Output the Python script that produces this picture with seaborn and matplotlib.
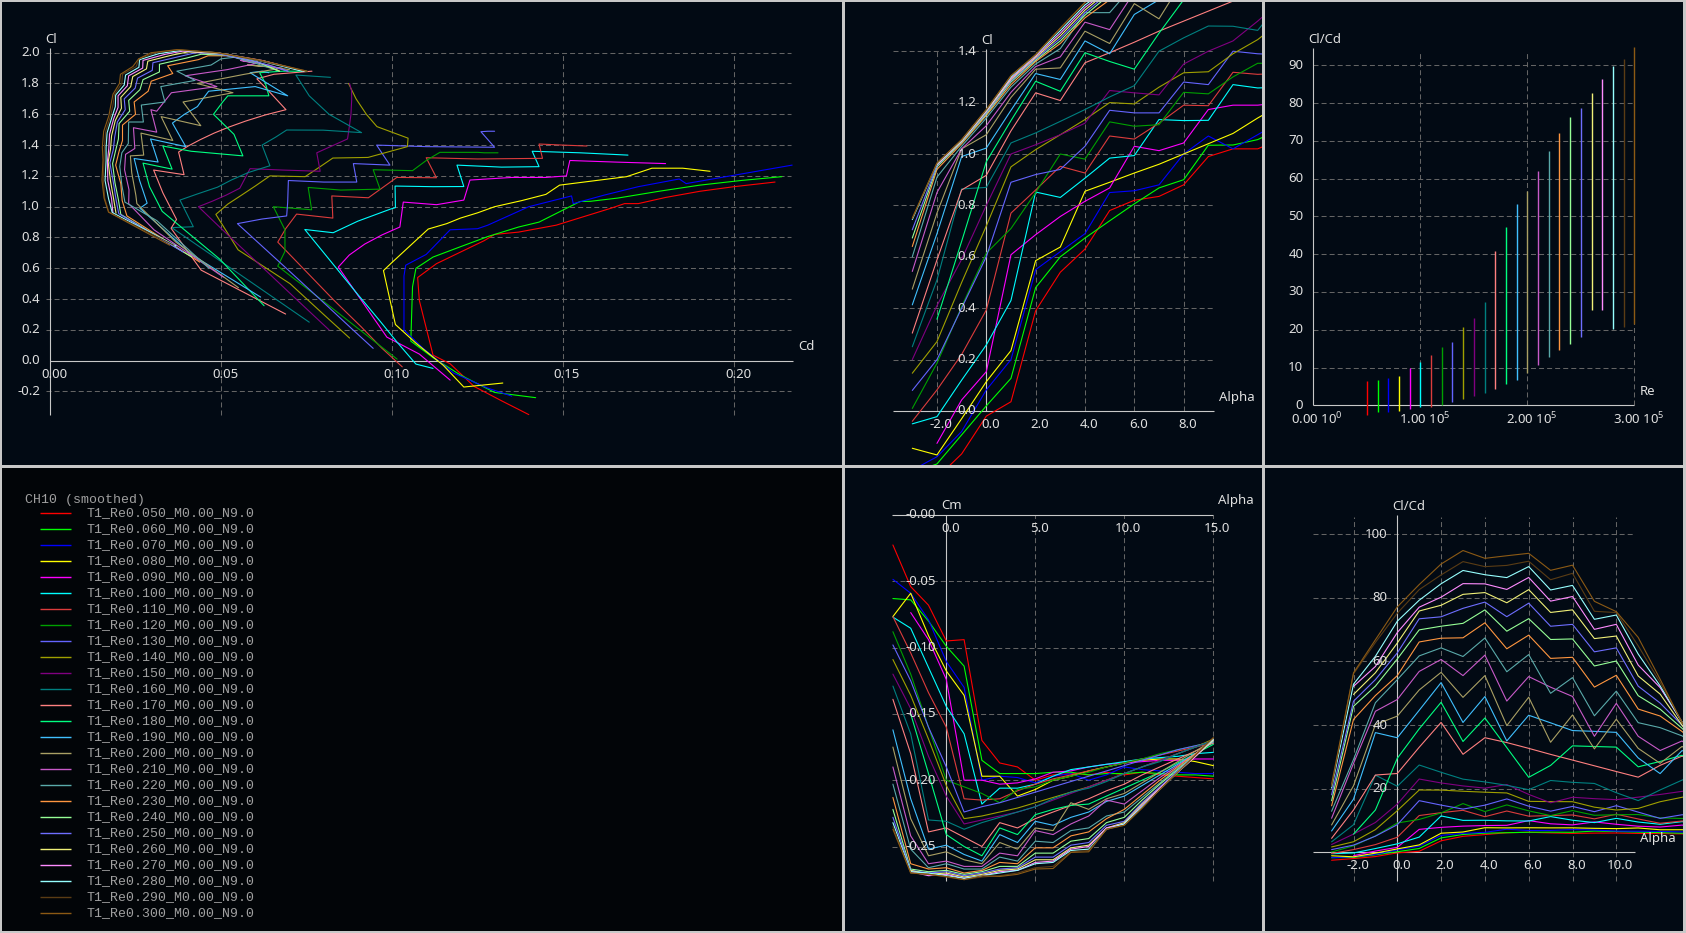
import numpy as np
import pandas as pd
import matplotlib
matplotlib.use("Agg")
import matplotlib.pyplot as plt
import seaborn as sns
from matplotlib.transforms import offset_copy

# ---------------------------------------------------------------- data
RE = [0.05, 0.06, 0.07, 0.08, 0.09, 0.10, 0.11, 0.12, 0.13, 0.14, 0.15, 0.16, 0.17,
      0.18, 0.19, 0.20, 0.21, 0.22, 0.23, 0.24, 0.25, 0.26, 0.27, 0.28, 0.29, 0.30]
LABELS = ["T1_Re%.3f_M0.00_N9.0" % r for r in RE]
COLORS = ['#ff0000', '#00ff00', '#0000ff', '#ffff00', '#ff00ff', '#00ffff',
          '#dc3c3c', '#00a000', '#6464ff', '#a0a000', '#800080', '#008080',
          '#ff8080', '#00ff80', '#40c0ff', '#aaa064', '#c85ac8', '#5aaaaa',
          '#ff9640', '#96ff96', '#6e6eff', '#f0f078', '#ff8cff', '#96ffff',
          '#5a3c14', '#8c5a14']
LEGEND_TITLE = "CH10 (smoothed)"

# first alpha of each polar (1 deg steps up to 15 deg)
ALPHA_START = [-3, -3, -3, -3, -2, -3, -3, -3, -3, -3, -3, -3, -3,
               -2, -3, -3, -3, -3, -3, -3, -3, -2, -2, -3, -3, -3]

CL = [
 [-0.35, -0.26, -0.167, -0.02, 0.036, 0.39, 0.54, 0.63, 0.78, 0.82, 0.835, 0.88, 0.99, 1.02, 1.02, 1.06, 1.10, 1.13, 1.16],
 [-0.24, -0.206, -0.093, 0.02, 0.127, 0.48, 0.60, 0.673, 0.74, 0.806, 0.868, 0.90, 1.034, 1.035, 1.056, 1.10, 1.14, 1.17, 1.195],
 [-0.23, -0.178, -0.08, 0.082, 0.20, 0.55, 0.62, 0.69, 0.85, 0.857, 0.88, 1.0, 1.07, 1.02, 1.075, 1.13, 1.18, 1.15, 1.27],
 [-0.145, -0.171, -0.03, 0.114, 0.235, 0.585, 0.638, 0.855, 0.89, 0.926, 0.96, 1.0, 1.04, 1.08, 1.14, 1.195, 1.25, 1.25, 1.23],
 [-0.126, 0.043, 0.153, 0.608, 0.686, 0.757, 0.816, 0.868, 1.03, 1.013, 1.043, 1.173, 1.19, 1.19, 1.20, 1.30, 1.29, 1.28],
 [-0.05, -0.022, 0.12, 0.257, 0.43, 0.852, 0.831, 0.906, 0.984, 0.994, 1.134, 1.13, 1.131, 1.27, 1.257, 1.26, 1.36, 1.35, 1.335],
 [-0.04, 0.082, 0.22, 0.393, 0.77, 0.86, 0.952, 0.926, 1.07, 1.058, 1.12, 1.19, 1.188, 1.318, 1.31, 1.314, 1.407, 1.40, 1.394],
 [0.01, 0.186, 0.406, 0.614, 0.71, 0.85, 1.0, 0.98, 1.125, 1.108, 1.114, 1.24, 1.234, 1.30, 1.353, 1.353, 1.35, 1.35, 1.35],
 [0.08, 0.2, 0.4, 0.6, 0.89, 0.92, 0.94, 1.03, 1.17, 1.16, 1.16, 1.28, 1.27, 1.40, 1.39, 1.386, 1.487, 1.49, 1.49],
 [0.147, 0.27, 0.5, 0.72, 0.95, 1.017, 1.075, 1.134, 1.2, 1.195, 1.26, 1.316, 1.32, 1.39, 1.445, 1.52, 1.6, 1.7, 1.8],
 [0.2, 0.41, 0.59, 0.8, 1.0, 1.036, 1.075, 1.12, 1.247, 1.238, 1.23, 1.35, 1.40, 1.44, 1.517, 1.60, 1.69, 1.75, 1.80],
 [0.25, 0.51, 0.864, 0.87, 1.043, 1.082, 1.127, 1.173, 1.222, 1.266, 1.40, 1.452, 1.498, 1.497, 1.481, 1.60, 1.72, 1.855, 1.84],
 [0.303, 0.588, 0.86, 0.917, 1.09, 1.238, 1.208, 1.355, 1.394, 1.435, 1.478, 1.517, 1.556, 1.595, 1.63, 1.75, 1.83, 1.86, 1.88],
 [0.357, 0.66, 0.97, 1.13, 1.283, 1.244, 1.394, 1.36, 1.33, 1.47, 1.60, 1.68, 1.72, 1.72, 1.80, 1.87, 1.88, 1.88],
 [0.413, 0.69, 0.99, 1.023, 1.17, 1.313, 1.29, 1.44, 1.39, 1.543, 1.60, 1.65, 1.70, 1.75, 1.78, 1.72, 1.87, 1.88, 1.87],
 [0.474, 0.77, 1.02, 1.075, 1.22, 1.33, 1.335, 1.478, 1.43, 1.585, 1.526, 1.68, 1.74, 1.80, 1.86, 1.90, 1.92, 1.91, 1.89],
 [0.543, 0.85, 1.02, 1.11, 1.24, 1.34, 1.378, 1.513, 1.484, 1.63, 1.62, 1.74, 1.78, 1.85, 1.89, 1.93, 1.95, 1.92, 1.88],
 [0.60, 0.91, 1.03, 1.14, 1.26, 1.35, 1.41, 1.55, 1.55, 1.66, 1.68, 1.78, 1.82, 1.88, 1.92, 1.96, 1.97, 1.93, 1.88],
 [0.64, 0.94, 1.04, 1.15, 1.27, 1.36, 1.43, 1.53, 1.60, 1.68, 1.75, 1.815, 1.865, 1.915, 1.955, 1.98, 1.98, 1.94, 1.88],
 [0.673, 0.95, 1.045, 1.155, 1.28, 1.365, 1.44, 1.54, 1.62, 1.69, 1.76, 1.825, 1.875, 1.925, 1.965, 1.99, 1.985, 1.94, 1.88],
 [0.705, 0.955, 1.048, 1.16, 1.285, 1.37, 1.45, 1.55, 1.63, 1.70, 1.77, 1.835, 1.885, 1.935, 1.975, 2.0, 1.99, 1.94, 1.88],
 [0.958, 1.05, 1.165, 1.29, 1.375, 1.46, 1.56, 1.64, 1.71, 1.78, 1.845, 1.895, 1.945, 1.985, 2.005, 1.995, 1.945, 1.88],
 [0.96, 1.052, 1.168, 1.295, 1.38, 1.47, 1.57, 1.645, 1.72, 1.785, 1.85, 1.90, 1.95, 1.99, 2.01, 2.0, 1.95, 1.88],
 [0.745, 0.962, 1.054, 1.17, 1.30, 1.385, 1.48, 1.58, 1.65, 1.725, 1.79, 1.855, 1.905, 1.955, 1.995, 2.015, 2.0, 1.95, 1.88],
 [0.75, 0.965, 1.056, 1.173, 1.305, 1.387, 1.49, 1.59, 1.66, 1.73, 1.80, 1.86, 1.91, 1.96, 2.0, 2.02, 2.0, 1.95, 1.88],
 [0.75, 0.965, 1.056, 1.173, 1.305, 1.387, 1.49, 1.59, 1.66, 1.73, 1.80, 1.86, 1.91, 1.96, 2.0, 2.02, 2.0, 1.95, 1.88],
]

CD = [
 [0.140, 0.132, 0.124, 0.117, 0.112, 0.108, 0.1075, 0.113, 0.127, 0.130, 0.137, 0.148, 0.164, 0.168, 0.172, 0.180, 0.190, 0.200, 0.212],
 [0.142, 0.130, 0.120, 0.112, 0.1055, 0.106, 0.107, 0.112, 0.120, 0.128, 0.137, 0.143, 0.155, 0.158, 0.166, 0.178, 0.190, 0.202, 0.214],
 [0.135, 0.128, 0.118, 0.109, 0.1035, 0.1035, 0.104, 0.110, 0.117, 0.125, 0.128, 0.140, 0.1525, 0.153, 0.162, 0.172, 0.184, 0.186, 0.217],
 [0.1324, 0.121, 0.115, 0.107, 0.101, 0.0975, 0.100, 0.1106, 0.116, 0.120, 0.125, 0.130, 0.138, 0.145, 0.149, 0.1686, 0.176, 0.185, 0.193],
 [0.117, 0.108, 0.0985, 0.0843, 0.0875, 0.092, 0.097, 0.1023, 0.1033, 0.113, 0.121, 0.1228, 0.135, 0.145, 0.151, 0.152, 0.165, 0.180],
 [0.112, 0.107, 0.1015, 0.0965, 0.090, 0.0745, 0.0828, 0.090, 0.0995, 0.101, 0.1009, 0.112, 0.121, 0.119, 0.132, 0.143, 0.141, 0.155, 0.169],
 [0.103, 0.097, 0.091, 0.083, 0.0666, 0.069, 0.0721, 0.0827, 0.0824, 0.0931, 0.097, 0.1014, 0.113, 0.110, 0.125, 0.144, 0.143, 0.150, 0.157],
 [0.1015, 0.0914, 0.0788, 0.0666, 0.0687, 0.0687, 0.0653, 0.0765, 0.0755, 0.085, 0.0965, 0.0945, 0.106, 0.110, 0.114, 0.125, 0.127, 0.129, 0.131],
 [0.0945, 0.0886, 0.0789, 0.0691, 0.0548, 0.062, 0.0692, 0.0695, 0.0697, 0.080, 0.0897, 0.0887, 0.0994, 0.0955, 0.110, 0.130, 0.126, 0.128, 0.130],
 [0.0876, 0.0815, 0.0702, 0.055, 0.0485, 0.052, 0.056, 0.060, 0.0643, 0.0746, 0.079, 0.0827, 0.093, 0.1045, 0.1047, 0.0956, 0.0925, 0.0895, 0.0873],
 [0.0816, 0.0715, 0.0629, 0.0528, 0.0434, 0.0475, 0.0515, 0.0555, 0.0585, 0.068, 0.079, 0.078, 0.083, 0.087, 0.0875, 0.088, 0.0882, 0.0882, 0.0876],
 [0.0758, 0.0588, 0.0356, 0.0419, 0.038, 0.043, 0.049, 0.053, 0.058, 0.0643, 0.062, 0.066, 0.0692, 0.0799, 0.0911, 0.0816, 0.0758, 0.0719, 0.082],
 [0.0689, 0.0442, 0.0354, 0.037, 0.033, 0.0303, 0.0392, 0.0376, 0.0404, 0.0439, 0.048, 0.0523, 0.0572, 0.0628, 0.069, 0.064, 0.0605, 0.0655, 0.0766],
 [0.0626, 0.0496, 0.0328, 0.0291, 0.0272, 0.0357, 0.033, 0.0413, 0.0564, 0.0538, 0.0478, 0.0505, 0.052, 0.064, 0.063, 0.0613, 0.068, 0.075],
 [0.0616, 0.0413, 0.0263, 0.0284, 0.0262, 0.0246, 0.0316, 0.0294, 0.0397, 0.0358, 0.0393, 0.0431, 0.0447, 0.0464, 0.060, 0.0695, 0.0585, 0.062, 0.064],
 [0.0551, 0.0368, 0.0254, 0.0251, 0.0239, 0.0235, 0.0274, 0.0266, 0.0359, 0.0325, 0.0441, 0.0389, 0.0535, 0.043, 0.0569, 0.0679, 0.0577, 0.0637, 0.070],
 [0.0507, 0.0304, 0.023, 0.0231, 0.0218, 0.0221, 0.0248, 0.0244, 0.0312, 0.0295, 0.0312, 0.0355, 0.0488, 0.0395, 0.0518, 0.0603, 0.0557, 0.064, 0.0696],
 [0.0465, 0.0312, 0.0219, 0.021, 0.0204, 0.021, 0.0229, 0.023, 0.0273, 0.0267, 0.0336, 0.0324, 0.0424, 0.0371, 0.0471, 0.050, 0.0538, 0.0603, 0.0671],
 [0.0438, 0.0225, 0.0211, 0.0207, 0.0192, 0.0202, 0.0212, 0.0212, 0.025, 0.0246, 0.0287, 0.0296, 0.0359, 0.0344, 0.0434, 0.0462, 0.0521, 0.0606, 0.0671],
 [0.0415, 0.0207, 0.020, 0.019, 0.0183, 0.0192, 0.020, 0.0202, 0.0233, 0.023, 0.0263, 0.0272, 0.032, 0.032, 0.0399, 0.0442, 0.0509, 0.0606, 0.0671],
 [0.039, 0.0201, 0.0193, 0.0185, 0.0175, 0.0185, 0.0189, 0.0197, 0.022, 0.0217, 0.0249, 0.0256, 0.0299, 0.0301, 0.0378, 0.0426, 0.0498, 0.0606, 0.0696],
 [0.0193, 0.0186, 0.0177, 0.017, 0.0177, 0.018, 0.0191, 0.0209, 0.0207, 0.0236, 0.0242, 0.0282, 0.0286, 0.0358, 0.0403, 0.0499, 0.0627, 0.0743],
 [0.0184, 0.018, 0.0169, 0.0168, 0.0172, 0.0174, 0.0186, 0.0199, 0.0199, 0.0226, 0.023, 0.0271, 0.0272, 0.0338, 0.0388, 0.0488, 0.0619, 0.0743],
 [0.0369, 0.0182, 0.0171, 0.0161, 0.0164, 0.0164, 0.0167, 0.0181, 0.0191, 0.0192, 0.0217, 0.0221, 0.026, 0.0262, 0.032, 0.0385, 0.0488, 0.0609, 0.0737],
 [0.0362, 0.0172, 0.016, 0.0156, 0.0158, 0.0159, 0.0163, 0.0177, 0.0184, 0.0189, 0.021, 0.0212, 0.0252, 0.026, 0.0308, 0.0378, 0.0488, 0.0609, 0.0752],
 [0.035, 0.0171, 0.0158, 0.0152, 0.0155, 0.0153, 0.0157, 0.0172, 0.0178, 0.0184, 0.0203, 0.0206, 0.0242, 0.0259, 0.0296, 0.0371, 0.049, 0.0619, 0.0752],
]

CM = [
 [-0.0226, -0.054, -0.068, -0.095, -0.094, -0.170, -0.187, -0.190, -0.200, -0.196, -0.195, -0.196, -0.194, -0.196, -0.194, -0.196, -0.197, -0.198, -0.199],
 [-0.063, -0.064, -0.080, -0.099, -0.114, -0.185, -0.195, -0.195, -0.195, -0.194, -0.194, -0.196, -0.195, -0.195, -0.194, -0.195, -0.196, -0.196, -0.197],
 [-0.0485, -0.059, -0.079, -0.1105, -0.130, -0.200, -0.197, -0.198, -0.202, -0.197, -0.195, -0.200, -0.196, -0.190, -0.192, -0.193, -0.194, -0.195, -0.195],
 [-0.0766, -0.059, -0.091, -0.1176, -0.136, -0.197, -0.197, -0.212, -0.207, -0.200, -0.197, -0.193, -0.190, -0.187, -0.185, -0.184, -0.184, -0.186, -0.189],
 [-0.0736, -0.094, -0.124, -0.200, -0.200, -0.203, -0.202, -0.199, -0.194, -0.193, -0.190, -0.188, -0.187, -0.186, -0.185, -0.185, -0.184, -0.184],
 [-0.077, -0.0854, -0.115, -0.1444, -0.165, -0.218, -0.206, -0.206, -0.203, -0.197, -0.192, -0.190, -0.188, -0.186, -0.184, -0.183, -0.182, -0.180, -0.179],
 [-0.0766, -0.104, -0.134, -0.160, -0.214, -0.215, -0.214, -0.208, -0.203, -0.199, -0.196, -0.193, -0.190, -0.187, -0.184, -0.181, -0.178, -0.175, -0.172],
 [-0.088, -0.120, -0.160, -0.200, -0.205, -0.210, -0.217, -0.207, -0.205, -0.200, -0.197, -0.194, -0.190, -0.187, -0.184, -0.180, -0.177, -0.174, -0.171],
 [-0.098, -0.125, -0.160, -0.190, -0.224, -0.220, -0.217, -0.213, -0.209, -0.205, -0.201, -0.197, -0.193, -0.189, -0.185, -0.181, -0.177, -0.174, -0.171],
 [-0.109, -0.136, -0.169, -0.204, -0.229, -0.227, -0.224, -0.221, -0.217, -0.213, -0.209, -0.205, -0.200, -0.195, -0.190, -0.185, -0.180, -0.175, -0.169],
 [-0.120, -0.146, -0.182, -0.212, -0.233, -0.230, -0.227, -0.224, -0.220, -0.215, -0.210, -0.205, -0.200, -0.195, -0.190, -0.185, -0.180, -0.175, -0.170],
 [-0.129, -0.165, -0.230, -0.231, -0.237, -0.232, -0.228, -0.224, -0.220, -0.214, -0.209, -0.206, -0.201, -0.195, -0.190, -0.186, -0.180, -0.175, -0.170],
 [-0.139, -0.180, -0.239, -0.236, -0.243, -0.250, -0.232, -0.236, -0.229, -0.224, -0.219, -0.214, -0.208, -0.203, -0.196, -0.190, -0.184, -0.178, -0.172],
 [-0.150, -0.195, -0.241, -0.250, -0.257, -0.236, -0.241, -0.226, -0.222, -0.219, -0.218, -0.212, -0.206, -0.200, -0.194, -0.187, -0.180, -0.173],
 [-0.162, -0.214, -0.252, -0.249, -0.256, -0.261, -0.241, -0.247, -0.231, -0.234, -0.228, -0.224, -0.216, -0.212, -0.204, -0.196, -0.188, -0.180, -0.171],
 [-0.175, -0.229, -0.257, -0.254, -0.260, -0.263, -0.247, -0.252, -0.236, -0.238, -0.217, -0.222, -0.214, -0.210, -0.202, -0.194, -0.186, -0.178, -0.170],
 [-0.190, -0.242, -0.263, -0.261, -0.265, -0.265, -0.255, -0.257, -0.238, -0.241, -0.233, -0.227, -0.215, -0.218, -0.208, -0.198, -0.189, -0.180, -0.170],
 [-0.203, -0.252, -0.266, -0.263, -0.267, -0.267, -0.258, -0.261, -0.246, -0.247, -0.238, -0.236, -0.227, -0.224, -0.213, -0.202, -0.191, -0.181, -0.170],
 [-0.213, -0.263, -0.267, -0.266, -0.270, -0.268, -0.262, -0.263, -0.251, -0.251, -0.242, -0.239, -0.229, -0.222, -0.211, -0.200, -0.190, -0.180, -0.170],
 [-0.222, -0.267, -0.269, -0.268, -0.271, -0.269, -0.265, -0.265, -0.255, -0.255, -0.246, -0.244, -0.232, -0.228, -0.215, -0.203, -0.192, -0.181, -0.170],
 [-0.228, -0.268, -0.270, -0.269, -0.272, -0.270, -0.267, -0.266, -0.258, -0.258, -0.249, -0.247, -0.234, -0.231, -0.217, -0.205, -0.193, -0.181, -0.170],
 [-0.268, -0.271, -0.270, -0.273, -0.271, -0.268, -0.267, -0.260, -0.260, -0.251, -0.249, -0.236, -0.232, -0.218, -0.206, -0.194, -0.182, -0.170],
 [-0.269, -0.272, -0.271, -0.274, -0.272, -0.269, -0.268, -0.262, -0.261, -0.252, -0.250, -0.236, -0.233, -0.219, -0.206, -0.194, -0.182, -0.169],
 [-0.232, -0.269, -0.270, -0.272, -0.274, -0.272, -0.270, -0.268, -0.263, -0.262, -0.253, -0.252, -0.237, -0.233, -0.220, -0.207, -0.194, -0.181, -0.169],
 [-0.235, -0.270, -0.271, -0.273, -0.275, -0.273, -0.272, -0.270, -0.266, -0.265, -0.254, -0.253, -0.237, -0.234, -0.221, -0.207, -0.194, -0.181, -0.168],
 [-0.237, -0.270, -0.271, -0.2726, -0.275, -0.272, -0.2726, -0.271, -0.267, -0.2666, -0.2545, -0.254, -0.237, -0.234, -0.221, -0.207, -0.194, -0.181, -0.168],
]

# tick values / labels
P1_XT = [0.00, 0.05, 0.10, 0.15, 0.20]
P1_YT = [-0.2, 0.0, 0.2, 0.4, 0.6, 0.8, 1.0, 1.2, 1.4, 1.6, 1.8, 2.0]
P2_XT = [-2, 0, 2, 4, 6, 8]
P2_YT = [0.0, 0.2, 0.4, 0.6, 0.8, 1.0, 1.2, 1.4]
P3_XT = [0, 100000, 200000, 300000]
P3_XTL = ["0.00 10$^{0}$", "1.00 10$^{5}$", "2.00 10$^{5}$", "3.00 10$^{5}$"]
P3_YT = [0, 10, 20, 30, 40, 50, 60, 70, 80, 90]
P4_XT = [0, 5, 10, 15]
P4_YT = [0.0, -0.05, -0.10, -0.15, -0.20, -0.25]
P4_YTL = ["-0.00", "-0.05", "-0.10", "-0.15", "-0.20", "-0.25"]
P5_XT = [-2, 0, 2, 4, 6, 8, 10]
P5_YT = [20, 40, 60, 80, 100]

# ---------------------------------------------------------------- table
rows = []
for i, lab in enumerate(LABELS):
    n = len(CL[i])
    assert n == len(CD[i]) == len(CM[i]) == 16 - ALPHA_START[i], (lab, n, len(CD[i]), len(CM[i]))
    for j in range(n):
        rows.append(dict(series=lab, Re=RE[i] * 1e6, alpha=ALPHA_START[i] + j,
                         Cl=CL[i][j], Cd=CD[i][j], Cm=CM[i][j]))
df = pd.DataFrame(rows)
df["ClCd"] = df["Cl"] / df["Cd"]
PAL = dict(zip(LABELS, COLORS))
rng = df.groupby("series")["ClCd"].agg(["min", "max"]).reindex(LABELS)
re_vals = df.groupby("series")["Re"].first().reindex(LABELS)

# ---------------------------------------------------------------- style
sns.set_theme(style="white")
plt.rcParams["font.family"] = ["Noto Sans", "DejaVu Sans"]
plt.rcParams["mathtext.default"] = "regular"
plt.rcParams["lines.scale_dashes"] = False

W, H = 1686, 933
BG = "#020a14"
BG_LEG = "#020508"
SEP = "#c8c8c8"
AXC = "#c8c8c8"
GRIDC = "#646464"
TXT = "#e0e0e0"
FS = 9.5
LW = 0.8
DASH = (0, (3.6, 2.2))

fig = plt.figure(figsize=(W / 100, H / 100), dpi=100, facecolor=SEP)

PANELS = {"p1": (2, 2, 842, 465), "p2": (845, 2, 1262, 465), "p3": (1265, 2, 1683, 465),
          "leg": (2, 468, 842, 931), "p4": (845, 468, 1262, 931), "p5": (1265, 468, 1683, 931)}
# pixel position of value 0 and pixels per unit, for x and y
MAPS = {"p1": (50, 3420, 360.7, 154), "p2": (986.3, 24.67, 411, 257),
        "p3": (1313.3, 107e-5, 405.3, 3.778), "p4": (946.3, 17.8, 515, 1326),
        "p5": (1397.3, 21.9, 852.3, 3.18)}


def make_ax(key, bg=BG):
    x0, y0, x1, y1 = PANELS[key]
    ax = fig.add_axes([x0 / W, 1 - y1 / H, (x1 - x0) / W, (y1 - y0) / H])
    ax.set_facecolor(bg)
    for s in ax.spines.values():
        s.set_visible(False)
    return ax


def finish(ax, key):
    x0, y0, x1, y1 = PANELS[key]
    X0, SX, Y0, SY = MAPS[key]
    ax.set_xlim((x0 - X0) / SX, (x1 - X0) / SX)
    ax.set_ylim((Y0 - y1) / SY, (Y0 - y0) / SY)
    ax.set_xticks([])
    ax.set_yticks([])
    ax.set_xlabel("")
    ax.set_ylabel("")
    ax.grid(False)


def frame(ax, xaxis_y, xspan, yaxis_x, yspan, vgrid, vspan, hgrid, hspan,
          xt, xtl, yt, ytl, xtitle, ytitle):
    ax.vlines(vgrid, vspan[0], vspan[1], colors=GRIDC, linestyles=DASH, lw=0.75, zorder=1)
    ax.hlines(hgrid, hspan[0], hspan[1], colors=GRIDC, linestyles=DASH, lw=0.75, zorder=1)
    ax.plot(xspan, [xaxis_y, xaxis_y], color=AXC, lw=0.8, zorder=1.5, solid_capstyle="butt")
    ax.plot([yaxis_x, yaxis_x], yspan, color=AXC, lw=0.8, zorder=1.5, solid_capstyle="butt")
    tx = offset_copy(ax.transData, fig=fig, x=4, y=-13.5, units="dots")
    for v, s in zip(xt, xtl):
        ax.text(v, xaxis_y, s, transform=tx, ha="center", va="center", color=TXT, fontsize=FS, zorder=3)
    ty = offset_copy(ax.transData, fig=fig, x=-10, y=0, units="dots")
    for v, s in zip(yt, ytl):
        ax.text(yaxis_x, v, s, transform=ty, ha="right", va="center", color=TXT, fontsize=FS, zorder=3)
    txt = offset_copy(ax.transData, fig=fig, x=5, y=14, units="dots")
    ax.text(xspan[1], xaxis_y, xtitle, transform=txt, ha="left", va="center", color=TXT, fontsize=FS, zorder=3)
    tyt = offset_copy(ax.transData, fig=fig, x=-5, y=9, units="dots")
    ax.text(yaxis_x, max(yspan), ytitle, transform=tyt, ha="left", va="center", color=TXT, fontsize=FS, zorder=3)


def curves(ax, x, y):
    sns.lineplot(data=df, x=x, y=y, hue="series", hue_order=LABELS, palette=PAL,
                 sort=False, estimator=None, legend=False, lw=LW, ax=ax, zorder=2)


# ---- P1 : Cl vs Cd
ax1 = make_ax("p1")
curves(ax1, "Cd", "Cl")
finish(ax1, "p1")
frame(ax1, 0, (0, 0.2172), 0, (-0.35, 2.03), P1_XT[1:], (-0.35, 2.0), [v for v in P1_YT if v != 0], (-0.0012, 0.2167),
      P1_XT, ["%.2f" % v for v in P1_XT], P1_YT, ["%.1f" % v for v in P1_YT], "Cd", "Cl")

# ---- P2 : Cl vs alpha
ax2 = make_ax("p2")
curves(ax2, "alpha", "Cl")
finish(ax2, "p2")
frame(ax2, 0, (-3.8, 9.22), 0, (0, 1.407), [v for v in P2_XT if v != 0], (0, 1.4), P2_YT[1:], (-3.8, 9.22),
      P2_XT, ["%.1f" % v for v in P2_XT], P2_YT, ["%.1f" % v for v in P2_YT], "Alpha", "Cl")

# ---- P3 : Cl/Cd range vs Re
ax3 = make_ax("p3")
ax3.vlines(re_vals.values, rng["min"].values, rng["max"].values, colors=COLORS, lw=1.0, zorder=2)
finish(ax3, "p3")
frame(ax3, 0, (0, 300000), 0, (0, 94.5), P3_XT[1:], (0, 93.8), P3_YT[1:], (0, 300000),
      P3_XT, P3_XTL, P3_YT, ["%d" % v for v in P3_YT], "Re", "Cl/Cd")

# ---- P4 : Cm vs alpha
ax4 = make_ax("p4")
curves(ax4, "alpha", "Cm")
finish(ax4, "p4")
frame(ax4, 0, (-3.03, 15), 0, (-0.276, 0), P4_XT[1:], (-0.276, 0), P4_YT[1:], (-3.03, 15),
      P4_XT, ["%.1f" % v for v in P4_XT], P4_YT, P4_YTL, "Alpha", "Cm")

# ---- P5 : Cl/Cd vs alpha
ax5 = make_ax("p5")
curves(ax5, "alpha", "ClCd")
finish(ax5, "p5")
frame(ax5, 0, (-3.84, 10.84), 0, (-9, 106), [v for v in P5_XT if v != 0], (-9, 105.4), P5_YT, (-3.84, 10.84),
      P5_XT, ["%.1f" % v for v in P5_XT], P5_YT, ["%d" % v for v in P5_YT], "Alpha", "Cl/Cd")

# ---- legend panel
axl = make_ax("leg", BG_LEG)
x0, y0, x1, y1 = PANELS["leg"]
axl.set_xlim(x0, x1)
axl.set_ylim(y1, y0)
axl.set_xticks([])
axl.set_yticks([])
MONO = ["Liberation Mono", "DejaVu Sans Mono"]
axl.text(25, 500, LEGEND_TITLE, ha="left", va="center", color="#a0a0a0", fontsize=9.5, family=MONO)
for i, (lab, col) in enumerate(zip(LABELS, COLORS)):
    yy = 512.7 + 16 * i
    axl.plot([40, 71], [yy, yy], color=col, lw=1.0, solid_capstyle="butt")
    axl.text(86, yy, lab, ha="left", va="center", color="#a0a0a0", fontsize=9.5, family=MONO)

fig.savefig("out.png", dpi=100, facecolor=fig.get_facecolor())
